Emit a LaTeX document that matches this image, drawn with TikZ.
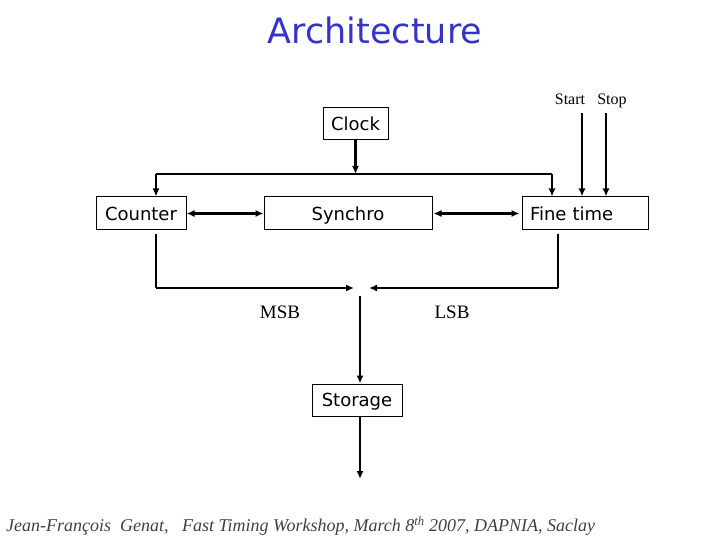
\documentclass[tikz,border=0pt]{standalone}
\usepackage{fontspec}
\setmainfont{Liberation Serif}
\newfontfamily\boxfont{DejaVu Sans}
\usetikzlibrary{arrows.meta}
\definecolor{titleblue}{RGB}{52,52,200}
\begin{document}
\begin{tikzpicture}[x=1pt, y=-1pt,
  block/.style={draw, line width=1pt, minimum height=32pt, inner sep=0pt, text height=13.5pt, text depth=0pt, font=\boxfont\fontsize{18}{20}\selectfont},
  wire/.style={line width=2.2pt},
  bus/.style={line width=1.1pt},
  arr/.style={wire, -{Latex[length=8pt,width=7pt]}},
  both/.style={wire, {Latex[length=8pt,width=7pt]}-{Latex[length=8pt,width=7pt]}},
  lbl/.style={font=\fontsize{19}{21}\selectfont, inner sep=0pt, anchor=base}]
  \useasboundingbox (0,0) rectangle (720,540);
  \node[font=\boxfont\fontsize{35}{40}\selectfont, text=titleblue] (title) at (375,30) {Architecture};
  \node[block, minimum width=65pt] (clock) at (355.5,124) {Clock};
  \node[block, minimum width=90pt, minimum height=33pt] (counter) at (141,213.5) {Counter};
  \node[block, minimum width=168pt, minimum height=33pt] (synchro) at (348,213.5) {Synchro};
  \node[block, minimum width=126pt, minimum height=33pt, text width=110pt] (fine) at (585,213.5) {Fine time};
  \node[block, minimum width=90pt] (storage) at (357,400) {Storage};
  \node[lbl, font=\fontsize{16}{18}\selectfont] (start) at (570,105) {Start};
  \node[lbl, font=\fontsize{16}{18}\selectfont] (stop) at (612,105) {Stop};
  \node[lbl] (msb) at (280,318) {MSB};
  \node[lbl] (lsb) at (452,318) {LSB};
  \node[anchor=west, inner sep=0pt, text=black!75, font=\itshape\fontsize{18}{20}\selectfont] (footer) at (6,526)
    {Jean-François\ \ Genat,\ \ \ Fast Timing Workshop, March 8\textsuperscript{th} 2007, DAPNIA, Saclay};
  % clock distribution
  \coordinate (busl) at (156,174);
  \coordinate (busr) at (552,174);
  \draw[arr] (clock.south) -- (clock.south |- busl);
  \draw[bus] (busl) -- (busr);
  \draw[arr] (busl) -- (busl |- counter.north);
  \draw[arr] (busr) -- (busr |- fine.north);
  \draw[both] (counter.east) -- (synchro.west);
  \draw[both, shorten <=1pt, shorten >=2pt] (synchro.east) -- (fine.west);
  % start / stop inputs
  \coordinate (startin) at (582,113);
  \coordinate (stopin) at (606,113);
  \draw[arr] (startin) -- (startin |- fine.north);
  \draw[arr] (stopin) -- (stopin |- fine.north);
  % MSB / LSB merge
  \coordinate (msbtop) at (156,234);
  \coordinate (lsbtop) at (558,234);
  \coordinate (merge) at (360,288);
  \coordinate (mergel) at (354,288);
  \coordinate (merger) at (369,288);
  \coordinate (down) at (360,296);
  \coordinate (out) at (360,479);
  \draw[bus] (msbtop) -- (msbtop |- merge);
  \draw[arr] (msbtop |- merge) -- (mergel);
  \draw[bus] (lsbtop) -- (lsbtop |- merge);
  \draw[arr] (lsbtop |- merge) -- (merger);
  \draw[arr] (down) -- (down |- storage.north);
  \draw[arr] (down |- storage.south) -- (out);
\end{tikzpicture}
\end{document}
